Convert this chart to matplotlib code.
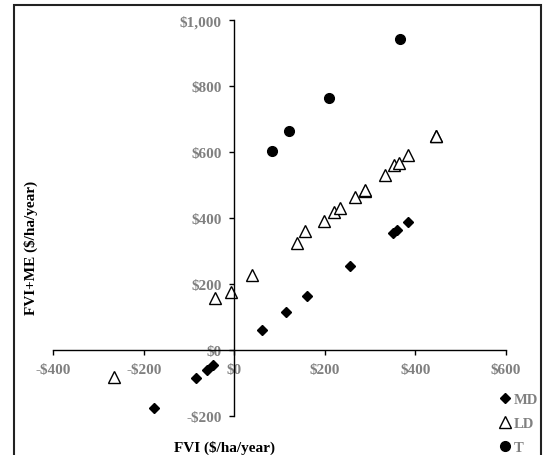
import matplotlib
matplotlib.use('Agg')
import matplotlib.pyplot as plt
from matplotlib.patches import Rectangle
from matplotlib.ticker import FuncFormatter

# values
md_x = [-177, -85, -61, -48, 62, 114, 161, 255, 351, 359, 383]
md_y = [-175, -83, -59, -46, 62, 115, 164, 256, 356, 364, 388]

ld_x = [-265, -42, -7, 40, 139, 157, 198, 220, 234, 267, 288, 290, 333, 354, 364, 385, 445, 446]
ld_y = [-81, 159, 177, 227, 324, 362, 393, 418, 432, 465, 484, 486, 530, 561, 568, 591, 648, 650]

t_x = [83, 122, 210, 366]
t_y = [605, 664, 766, 942]

x_ticks = [-400, -200, 0, 200, 400, 600]
y_ticks = [-200, 0, 200, 400, 600, 800, 1000]

W, H = 549, 456
GRAY = '#808080'

plt.rcParams['font.family'] = ['Liberation Serif', 'DejaVu Serif']
plt.rcParams['font.weight'] = 'bold'


def dollars(v, pos=None):
    if v < 0:
        return '-${:,.0f}'.format(-v)
    return '${:,.0f}'.format(v)


def main():
    fig = plt.figure(figsize=(W / 100, H / 100), dpi=100)
    ax = fig.add_axes([53.3 / W, 1 - 417.3 / H, (505.7 - 53.3) / W, (417.3 - 21.3) / H])

    ax.plot(md_x, md_y, linestyle='none', marker='D', markersize=4.6,
            color='black', label='MD')
    ax.plot(ld_x, ld_y, linestyle='none', marker='^', markersize=8,
            markerfacecolor='white', markeredgecolor='black', markeredgewidth=1, label='LD')
    ax.plot(t_x, t_y, linestyle='none', marker='o', markersize=7,
            color='black', label='T')

    ax.set_xlim(-400, 600)
    ax.set_ylim(-200, 1000)
    ax.set_xticks(x_ticks)
    ax.set_yticks(y_ticks)
    ax.xaxis.set_major_formatter(FuncFormatter(dollars))
    ax.yaxis.set_major_formatter(FuncFormatter(dollars))

    for side in ['top', 'right']:
        ax.spines[side].set_visible(False)
    ax.spines['left'].set_position(('data', 0))
    ax.spines['bottom'].set_position(('data', 0))
    for side in ['left', 'bottom']:
        ax.spines[side].set_linewidth(1)
        ax.spines[side].set_color('black')
    ax.patch.set_visible(False)

    ax.tick_params(axis='both', direction='out', length=3.5, width=1, color='black',
                   labelsize=11, labelcolor=GRAY, pad=5.5)

    fig.text(225 / W, 1 - 448 / H, 'FVI ($/ha/year)', ha='center', va='center',
             fontsize=11, fontweight='bold')
    fig.text(31 / W, 1 - 247.5 / H, 'FVI+ME ($/ha/year)', ha='center', va='center',
             rotation=90, fontsize=11, fontweight='bold')

    ax.legend(loc='upper left', bbox_to_anchor=(498 / W, 1 - 394 / H),
              bbox_transform=fig.transFigure, frameon=False,
              handlelength=0.9, handletextpad=0.15, labelspacing=0.72,
              borderpad=0, borderaxespad=0, labelcolor=GRAY,
              prop={'weight': 'bold', 'size': 10.5})

    fig.patches.append(Rectangle((14 / W, -0.02), (541 - 14) / W, 1 - 6 / H + 0.02,
                                 transform=fig.transFigure, fill=False,
                                 edgecolor='#222222', linewidth=1.5))

    fig.savefig('out.png', dpi=100)


if __name__ == '__main__':
    main()
